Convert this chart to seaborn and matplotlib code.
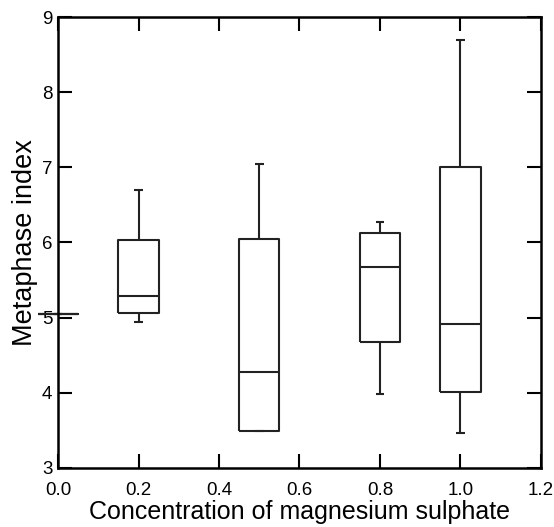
import numpy as np
import pandas as pd
import matplotlib
matplotlib.use("Agg")
import matplotlib.pyplot as plt
import seaborn as sns

# DATA (five-number summaries: min, Q1, median, Q3, max)
concentrations = [0.0, 0.2, 0.5, 0.8, 1.0]
lower_whisker = [5.05, 4.94, 3.49, 3.98, 3.47]
q1_values = [5.05, 5.06, 3.49, 4.68, 4.01]
medians = [5.05, 5.29, 4.28, 5.67, 4.91]
q3_values = [5.05, 6.03, 6.05, 6.12, 7.00]
upper_whisker = [5.05, 6.70, 7.04, 6.27, 8.69]

x_ticks = [0.0, 0.2, 0.4, 0.6, 0.8, 1.0, 1.2]
y_ticks = [3, 4, 5, 6, 7, 8, 9]

rows = []
for i, c in enumerate(concentrations):
    for v in (lower_whisker[i], q1_values[i], medians[i], q3_values[i], upper_whisker[i]):
        rows.append({"conc": c, "index": v})
df = pd.DataFrame(rows)

sns.set_style("ticks")
plt.rcParams['font.family'] = ['Liberation Sans', 'DejaVu Sans']
plt.rcParams['text.color'] = 'black'
plt.rcParams['axes.labelcolor'] = 'black'
plt.rcParams['xtick.color'] = 'black'
plt.rcParams['ytick.color'] = 'black'

fig = plt.figure(figsize=(5.54, 5.27), dpi=100)
ax = fig.add_axes([0.1047, 0.112, 0.8718, 0.8557])

line_kw = dict(color="#222222", linewidth=1.5)
sns.boxplot(data=df, x="conc", y="index", native_scale=True, width=0.5,
            fill=False, whis=(0, 100), linewidth=1.5, color="#222222",
            capwidths=0.022, ax=ax,
            medianprops=line_kw, whiskerprops=line_kw, capprops=line_kw,
            boxprops=line_kw)

# the control box at 0.0 sits on the left spine, so don't clip
for ln in ax.lines:
    ln.set_clip_on(False)
    ln.set_solid_capstyle("butt")

ax.set_xlim(0.0, 1.2)
ax.set_ylim(3, 9)
ax.set_xticks(x_ticks)
ax.set_xticklabels([f"{t:.1f}" for t in x_ticks])
ax.set_yticks(y_ticks)

ax.tick_params(axis="both", direction="in", length=10, width=1.5,
               labelsize=13.5, top=True, right=True)
ax.tick_params(axis="x", pad=10)
ax.tick_params(axis="y", pad=4)
for sp in ax.spines.values():
    sp.set_visible(True)
    sp.set_linewidth(1.8)
    sp.set_color("black")

ax.set_xlabel("Concentration of magnesium sulphate", fontsize=18, labelpad=1)
ax.set_ylabel("Metaphase index", fontsize=19.5, labelpad=3)

fig.savefig("out.png", dpi=100)
plt.close(fig)
